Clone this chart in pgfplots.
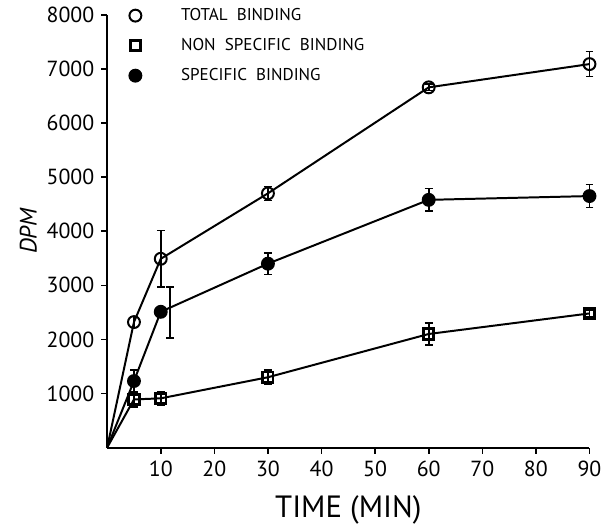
\documentclass[border=0pt]{standalone}
\usepackage{fontspec}
\setmainfont{PT Sans}
\usepackage{pgfplots}
\pgfplotsset{compat=1.18}

\begin{document}
\begin{tikzpicture}
\begin{axis}[
    scale only axis,
    width=243pt, height=218pt,
    xmin=0, xmax=90, ymin=0, ymax=8000,
    axis x line=bottom, axis y line=left,
    axis line style={-, line width=1pt},
    xtick={10,20,...,90},
    ytick={1000,2000,...,8000},
    tick align=outside,
    major tick length=3pt,
    tick style={line width=0.8pt, black},
    /pgf/number format/assume math mode=true,
    /pgf/number format/set thousands separator={},
    ticklabel style={font=\fontsize{11}{12}\selectfont},
    xlabel={TIME (MIN)},
    xlabel style={font=\fontsize{15.5}{17}\selectfont, yshift=-3pt},
    ylabel={\itshape DPM},
    ylabel style={font=\fontsize{12}{13}\selectfont, yshift=-2pt},
    legend style={draw=none, fill=none, at={(0.033,1.035)}, anchor=north west,
                  font=\fontsize{8.6}{9}\selectfont, row sep=3.5pt},
    legend cell align=left,
    clip=false,
    every axis plot/.append style={line width=1pt},
    error bars/error bar style={line width=0.8pt},
    error bars/error mark options={rotate=90, mark size=2pt, line width=0.8pt},
]
% connecting lines (from the origin)
\addplot[black, forget plot] coordinates {(0,0) (5,2320) (10,3490) (30,4700) (60,6660) (90,7090)};
\addplot[black, forget plot] coordinates {(0,0) (5,890) (10,910) (30,1300) (60,2100) (90,2480)};
\addplot[black, forget plot] coordinates {(0,0) (5,1230) (10,2510) (30,3400) (60,4580) (90,4650)};

% total binding
\addplot[only marks, mark=o, mark size=3pt, black, mark options={fill=white, line width=1pt},
    error bars/.cd, y dir=both, y explicit] coordinates {
    (5,2320) +- (0,100)
    (10,3490) +- (0,520)
    (30,4700) +- (0,130)
    (60,6660) +- (0,60)
    (90,7090) +- (0,230)
};
% non specific binding
\addplot[only marks, mark=square, mark size=2.6pt, black, mark options={fill=white, line width=1.4pt},
    error bars/.cd, y dir=both, y explicit] coordinates {
    (5,890) +- (0,140)
    (10,910) +- (0,120)
    (30,1300) +- (0,130)
    (60,2100) +- (0,200)
    (90,2480) +- (0,60)
};
% specific binding
\addplot[only marks, mark=*, mark size=3pt, black,
    error bars/.cd, y dir=both, y explicit] coordinates {
    (5,1230) +- (0,200)
    (30,3400) +- (0,200)
    (60,4580) +- (0,210)
    (90,4650) +- (0,210)
};
\addplot[only marks, mark=*, mark size=3pt, black, forget plot] coordinates {(10,2510)};
% offset error bar of the 10 min specific point
\addplot[draw=none, mark=none, forget plot,
    error bars/.cd, y dir=both, y explicit,
    error bar style={draw=black, line width=0.8pt},
    error mark options={draw=black, rotate=90, mark size=2pt, line width=0.8pt}] coordinates {
    (11.7,2500) +- (0,470)
};
\legend{\hspace*{18pt}TOTAL\ \ BINDING, \hspace*{18pt}NON\ \ SPECIFIC\ \ BINDING, \hspace*{18pt}SPECIFIC\ \ BINDING}

\coordinate (bbsw) at (axis description cs:-0.2222,-0.1743);
\coordinate (bbne) at (axis description cs:1.0288,1.0344);
\end{axis}
\path (bbsw) rectangle (bbne);
\end{tikzpicture}
\end{document}
